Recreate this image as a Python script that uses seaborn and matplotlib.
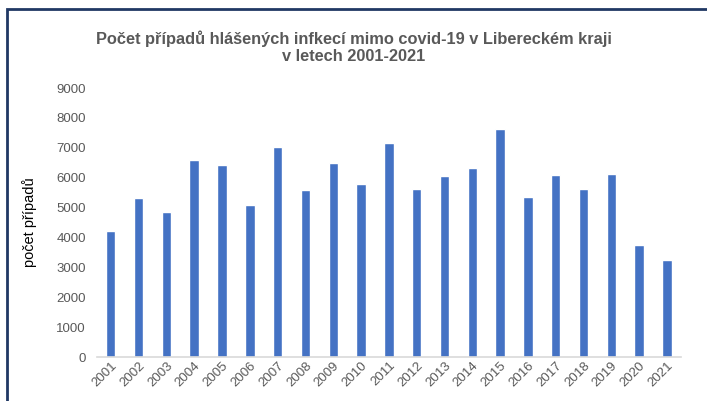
import pandas as pd
import matplotlib.pyplot as plt
import matplotlib.patches as patches
import seaborn as sns

# data
years = [str(y) for y in range(2001, 2022)]
cases = [4220, 5310, 4840, 6590, 6410, 5070, 7030, 5580, 6490, 5790, 7150,
         5620, 6060, 6320, 7640, 5340, 6090, 5620, 6120, 3750, 3240]

df = pd.DataFrame({"Rok": years, "Pocet": cases})

sns.set_theme(style="white")
plt.rcParams['font.family'] = ['Liberation Sans', 'DejaVu Sans']

fig = plt.figure(figsize=(7.07, 4.01), dpi=100)
ax = fig.add_axes([0.137, 0.1097, 0.826, 0.6708])

sns.barplot(x="Rok", y="Pocet", data=df, color="#4472C4", width=0.34,
            saturation=1, ax=ax)

ax.set_ylim(0, 9000)
ax.set_yticks(range(0, 9001, 1000))
ax.set_xlim(-0.5, len(years) - 0.5)
ax.tick_params(axis='both', length=0, colors="#595959", labelsize=9.5)
ax.tick_params(axis='y', pad=8)
ax.tick_params(axis='x', pad=2)
plt.setp(ax.get_xticklabels(), rotation=45, ha='right', rotation_mode='anchor')

for s in ['top', 'right', 'left']:
    ax.spines[s].set_visible(False)
ax.spines['bottom'].set_color("#D9D9D9")
ax.spines['bottom'].set_linewidth(1.2)

ax.set_xlabel("")
ax.set_ylabel("počet případů", fontsize=10.5, color="black", labelpad=14)

fig.text(0.5, 0.882, "Počet případů hlášených infkecí mimo covid-19 v Libereckém kraji\nv letech 2001-2021",
         ha='center', va='center', fontsize=11.8, fontweight='bold', color="#595959",
         linespacing=1.15)

# frame of the original chart area (cropped at right/bottom)
border = patches.Rectangle((7 / 707, -0.2), 1.2, 0.2 + (401 - 9) / 401,
                           transform=fig.transFigure, fill=False,
                           edgecolor="#203864", linewidth=2)
fig.patches.append(border)

fig.savefig("out.png", dpi=100)
